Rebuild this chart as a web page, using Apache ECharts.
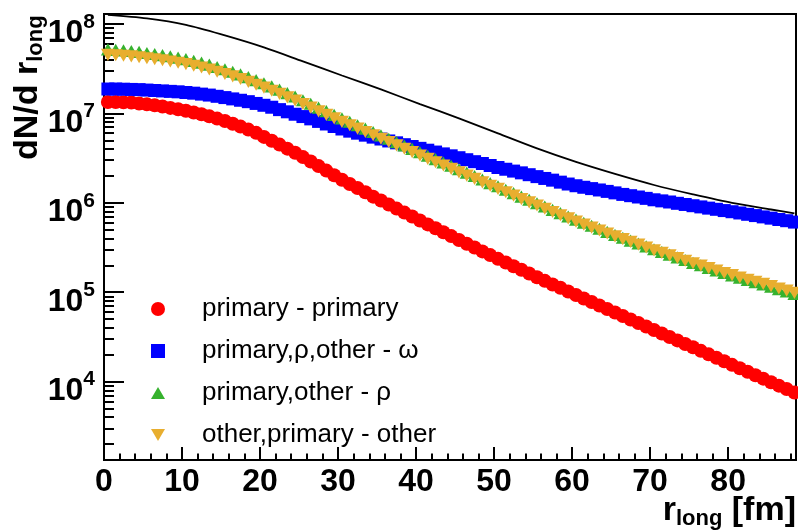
<!DOCTYPE html>
<html>
<head>
<meta charset="utf-8">
<title>dN/d r_long</title>
<script src="https://cdn.jsdelivr.net/npm/echarts@6/dist/echarts.min.js"></script>
<style>
  html, body { margin: 0; padding: 0; background: #fff; }
  #chart { width: 798px; height: 532px; }
</style>
</head>
<body>
<div id="chart"></div>
<script>
// bin centres [fm]
const rLong = [0.5, 1.5, 2.5, 3.5, 4.5, 5.5, 6.5, 7.5, 8.5, 9.5,
  10.5, 11.5, 12.5, 13.5, 14.5, 15.5, 16.5, 17.5, 18.5, 19.5,
  20.5, 21.5, 22.5, 23.5, 24.5, 25.5, 26.5, 27.5, 28.5, 29.5,
  30.5, 31.5, 32.5, 33.5, 34.5, 35.5, 36.5, 37.5, 38.5, 39.5,
  40.5, 41.5, 42.5, 43.5, 44.5, 45.5, 46.5, 47.5, 48.5, 49.5,
  50.5, 51.5, 52.5, 53.5, 54.5, 55.5, 56.5, 57.5, 58.5, 59.5,
  60.5, 61.5, 62.5, 63.5, 64.5, 65.5, 66.5, 67.5, 68.5, 69.5,
  70.5, 71.5, 72.5, 73.5, 74.5, 75.5, 76.5, 77.5, 78.5, 79.5,
  80.5, 81.5, 82.5, 83.5, 84.5, 85.5, 86.5, 87.5, 88.5];

// primary - primary
const primPrim = [1.34e7, 1.34e7, 1.33e7, 1.32e7, 1.29e7, 1.26e7, 1.23e7, 1.19e7, 1.15e7, 1.11e7,
  1.07e7, 1.02e7, 9.75e6, 9.25e6, 8.73e6, 8.20e6, 7.66e6, 7.11e6, 6.58e6, 6.05e6,
  5.45e6, 4.94e6, 4.47e6, 4.03e6, 3.62e6, 3.24e6, 2.89e6, 2.57e6, 2.29e6, 2.03e6,
  1.81e6, 1.62e6, 1.46e6, 1.31e6, 1.17e6, 1.06e6, 9.55e5, 8.61e5, 7.76e5, 7.01e5,
  6.34e5, 5.73e5, 5.18e5, 4.68e5, 4.24e5, 3.84e5, 3.48e5, 3.16e5, 2.86e5, 2.60e5,
  2.36e5, 2.15e5, 1.95e5, 1.78e5, 1.62e5, 1.47e5, 1.34e5, 1.22e5, 1.12e5, 1.02e5,
  9.29e4, 8.49e4, 7.76e4, 7.10e4, 6.49e4, 5.93e4, 5.42e4, 4.95e4, 4.53e4, 4.14e4,
  3.78e4, 3.46e4, 3.16e4, 2.89e4, 2.64e4, 2.42e4, 2.21e4, 2.02e4, 1.85e4, 1.69e4,
  1.54e4, 1.41e4, 1.29e4, 1.18e4, 1.08e4, 9.84e3, 9.02e3, 8.26e3, 7.57e3];

// primary,rho,other - omega
const toOmega = [1.87e7, 1.87e7, 1.86e7, 1.85e7, 1.84e7, 1.82e7, 1.80e7, 1.78e7, 1.76e7, 1.74e7,
  1.71e7, 1.68e7, 1.64e7, 1.60e7, 1.55e7, 1.50e7, 1.45e7, 1.40e7, 1.35e7, 1.29e7,
  1.23e7, 1.17e7, 1.10e7, 1.04e7, 9.77e6, 9.20e6, 8.67e6, 8.12e6, 7.60e6, 7.12e6,
  6.68e6, 6.32e6, 6.00e6, 5.70e6, 5.42e6, 5.16e6, 4.91e6, 4.68e6, 4.46e6, 4.26e6,
  4.06e6, 3.87e6, 3.69e6, 3.52e6, 3.35e6, 3.19e6, 3.03e6, 2.88e6, 2.75e6, 2.61e6,
  2.48e6, 2.37e6, 2.26e6, 2.16e6, 2.06e6, 1.96e6, 1.87e6, 1.79e6, 1.70e6, 1.62e6,
  1.55e6, 1.49e6, 1.44e6, 1.39e6, 1.34e6, 1.29e6, 1.24e6, 1.20e6, 1.16e6, 1.12e6,
  1.08e6, 1.05e6, 1.02e6, 9.86e5, 9.57e5, 9.27e5, 8.99e5, 8.71e5, 8.45e5, 8.18e5,
  7.94e5, 7.69e5, 7.43e5, 7.19e5, 6.95e5, 6.73e5, 6.50e5, 6.30e5, 6.08e5];

// primary,other - rho
const toRho = [5.19e7, 5.13e7, 5.06e7, 4.97e7, 4.86e7, 4.73e7, 4.60e7, 4.48e7, 4.34e7, 4.20e7,
  4.04e7, 3.86e7, 3.69e7, 3.50e7, 3.30e7, 3.11e7, 2.92e7, 2.73e7, 2.54e7, 2.35e7,
  2.17e7, 2.00e7, 1.84e7, 1.68e7, 1.54e7, 1.40e7, 1.28e7, 1.16e7, 1.06e7, 9.62e6,
  8.77e6, 8.04e6, 7.36e6, 6.75e6, 6.19e6, 5.66e6, 5.20e6, 4.76e6, 4.37e6, 4.00e6,
  3.67e6, 3.36e6, 3.08e6, 2.82e6, 2.59e6, 2.37e6, 2.17e6, 1.99e6, 1.82e6, 1.66e6,
  1.53e6, 1.40e6, 1.28e6, 1.17e6, 1.08e6, 9.89e5, 9.08e5, 8.34e5, 7.66e5, 7.03e5,
  6.47e5, 5.98e5, 5.53e5, 5.12e5, 4.72e5, 4.37e5, 4.06e5, 3.77e5, 3.50e5, 3.25e5,
  3.02e5, 2.82e5, 2.63e5, 2.45e5, 2.29e5, 2.13e5, 2.00e5, 1.87e5, 1.75e5, 1.64e5,
  1.54e5, 1.45e5, 1.37e5, 1.29e5, 1.22e5, 1.15e5, 1.08e5, 1.02e5, 9.57e4];

// other,primary - other
const toOther = [4.50e7, 4.46e7, 4.40e7, 4.33e7, 4.24e7, 4.13e7, 4.03e7, 3.92e7, 3.80e7, 3.68e7,
  3.55e7, 3.40e7, 3.25e7, 3.09e7, 2.92e7, 2.75e7, 2.59e7, 2.42e7, 2.25e7, 2.09e7,
  1.94e7, 1.79e7, 1.65e7, 1.51e7, 1.39e7, 1.27e7, 1.16e7, 1.05e7, 9.62e6, 8.77e6,
  8.02e6, 7.35e6, 6.75e6, 6.18e6, 5.68e6, 5.20e6, 4.78e6, 4.38e6, 4.02e6, 3.68e6,
  3.38e6, 3.10e6, 2.84e6, 2.61e6, 2.39e6, 2.19e6, 2.01e6, 1.85e6, 1.69e6, 1.55e6,
  1.43e6, 1.31e6, 1.20e6, 1.10e6, 1.01e6, 9.31e5, 8.57e5, 7.89e5, 7.26e5, 6.68e5,
  6.15e5, 5.70e5, 5.28e5, 4.90e5, 4.54e5, 4.21e5, 3.92e5, 3.65e5, 3.40e5, 3.16e5,
  2.94e5, 2.75e5, 2.58e5, 2.41e5, 2.25e5, 2.11e5, 1.98e5, 1.86e5, 1.75e5, 1.64e5,
  1.55e5, 1.46e5, 1.38e5, 1.31e5, 1.24e5, 1.17e5, 1.10e5, 1.04e5, 9.82e4];

// total (black curve)
const rTotal = [0.5, 5.5, 10.5, 15.5, 20.5, 25.5, 30.5, 35.5, 40.5, 45.5,
  50.5, 55.5, 60.5, 65.5, 70.5, 75.5, 80.5, 85.5, 88.5];
const total = [1.26e8, 1.15e8, 9.75e7, 7.43e7, 5.46e7, 3.81e7, 2.65e7, 1.85e7, 1.27e7, 8.77e6,
  5.96e6, 4.05e6, 2.86e6, 2.10e6, 1.58e6, 1.24e6, 9.95e5, 8.41e5, 7.59e5];

const seriesNames = ['primary - primary', 'primary,\u03c1,other - \u03c9',
  'primary,other - \u03c1', 'other,primary - other'];

// axis ticks
const xMinor = [2, 4, 6, 8, 12, 14, 16, 18, 22, 24, 26, 28, 32, 34, 36, 38, 42, 44, 46, 48,
  52, 54, 56, 58, 62, 64, 66, 68, 72, 74, 76, 78, 82, 84, 86, 88];
const yMinorMant = [2, 3, 4, 5, 6, 7, 8, 9];
const yDecades = [3, 4, 5, 6, 7];

const X_MAX = 88.7;
const Y_MIN = 1330;
const Y_MAX = 1.29e8;

const FONT = 'Liberation Sans, Arial, Helvetica, sans-serif';

const pairs = (xs, ys) => ys.map((v, i) => [xs[i], v]);

const yMinorTicks = [];
yDecades.forEach(d => yMinorMant.forEach(m => {
  const v = m * Math.pow(10, d);
  if (v > Y_MIN && v < Y_MAX) yMinorTicks.push(Math.log10(v));
}));

const square = 'path://M0,0L10,0L10,10L0,10Z';
const downTri = 'path://M0,0L10,0L5,8.66Z';
const upTri = 'path://M5,0L10,8.66L0,8.66Z';

const chart = echarts.init(document.getElementById('chart'), null, { renderer: 'canvas' });

const option = {
  animation: false,
  backgroundColor: '#fff',
  grid: {
    left: 104, right: 2, top: 14, bottom: 72,
    show: true, borderColor: '#000', borderWidth: 2, backgroundColor: 'transparent'
  },
  legend: {
    data: seriesNames,
    orient: 'vertical',
    left: 146, top: 291,
    itemWidth: 14, itemHeight: 14, itemGap: 16,
    symbolKeepAspect: true,
    textStyle: { fontFamily: FONT, fontSize: 26, color: '#000', padding: [0, 0, 0, 32] }
  },
  xAxis: [{
    type: 'value', min: 0, max: X_MAX, interval: 10,
    axisLine: { lineStyle: { color: '#000', width: 2 } },
    axisTick: { inside: true, length: 13, lineStyle: { color: '#000', width: 2 } },
    axisLabel: {
      showMaxLabel: false, margin: 6, color: '#000',
      fontFamily: FONT, fontWeight: 'bold', fontSize: 32
    },
    splitLine: { show: false }
  }, {
    // minor ticks
    type: 'value', min: 0, max: X_MAX, position: 'bottom', offset: 0,
    axisLine: { show: false },
    axisTick: { inside: true, length: 6.5, customValues: xMinor, lineStyle: { color: '#000', width: 2 } },
    axisLabel: { show: false },
    splitLine: { show: false }
  }],
  yAxis: [{
    type: 'log', logBase: 10, min: Y_MIN, max: Y_MAX, splitNumber: 5,
    axisLine: { lineStyle: { color: '#000', width: 2 } },
    axisTick: { inside: true, length: 20, lineStyle: { color: '#000', width: 2 } },
    axisLabel: {
      showMinLabel: false, showMaxLabel: false, margin: 9,
      padding: [13, 0, 0, 0],
      formatter: v => '{b|10}{e|' + Math.round(Math.log10(v)) + '}',
      rich: {
        b: { fontFamily: FONT, fontWeight: 'bold', fontSize: 32, color: '#000', verticalAlign: 'bottom' },
        e: { fontFamily: FONT, fontWeight: 'bold', fontSize: 21, color: '#000', verticalAlign: 'top', padding: [0, 0, 17, 0] }
      }
    },
    splitLine: { show: false }
  }, {
    // minor ticks (log10 space)
    type: 'value', min: Math.log10(Y_MIN), max: Math.log10(Y_MAX), position: 'left', offset: 0,
    axisLine: { show: false },
    axisTick: { inside: true, length: 10, customValues: yMinorTicks, lineStyle: { color: '#000', width: 2 } },
    axisLabel: { show: false },
    splitLine: { show: false }
  }],
  graphic: [{
    type: 'text', right: 2, top: 494,
    style: {
      text: '{r|r}{s|long}{r| [fm]}',
      rich: {
        r: { fontFamily: FONT, fontWeight: 'bold', fontSize: 34, fill: '#000', verticalAlign: 'top' },
        s: { fontFamily: FONT, fontWeight: 'bold', fontSize: 22, fill: '#000', verticalAlign: 'bottom', padding: [14, 0, 0, 0] }
      }
    }
  }, {
    type: 'text', x: 47, y: 160, rotation: Math.PI / 2,
    style: {
      text: '{r|dN/d r}{s|long}',
      align: 'left', verticalAlign: 'bottom',
      rich: {
        r: { fontFamily: FONT, fontWeight: 'bold', fontSize: 34, fill: '#000', verticalAlign: 'top' },
        s: { fontFamily: FONT, fontWeight: 'bold', fontSize: 22, fill: '#000', verticalAlign: 'bottom', padding: [14, 0, 0, 0] }
      }
    }
  }],
  series: [{
    name: seriesNames[0], type: 'scatter',
    data: pairs(rLong, primPrim),
    symbol: 'circle', symbolSize: 14,
    itemStyle: { color: '#ff0000', opacity: 1 }
  }, {
    name: seriesNames[1], type: 'scatter',
    data: pairs(rLong, toOmega),
    symbol: square, symbolSize: 13, symbolKeepAspect: true,
    itemStyle: { color: '#0000ff', opacity: 1 }
  }, {
    name: seriesNames[2], type: 'scatter',
    data: pairs(rLong, toRho),
    symbol: upTri, symbolSize: 14, symbolKeepAspect: true,
    itemStyle: { color: '#36b22e', opacity: 1 }
  }, {
    name: seriesNames[3], type: 'scatter',
    data: pairs(rLong, toOther),
    symbol: downTri, symbolSize: 14, symbolKeepAspect: true,
    itemStyle: { color: '#e8ae2f', opacity: 1 }
  }, {
    name: 'total', type: 'line',
    data: pairs(rTotal, total),
    showSymbol: false, symbol: 'none', smooth: 0.3,
    lineStyle: { color: '#000', width: 1.8 },
    z: 5
  }]
};

chart.setOption(option);
</script>
</body>
</html>
